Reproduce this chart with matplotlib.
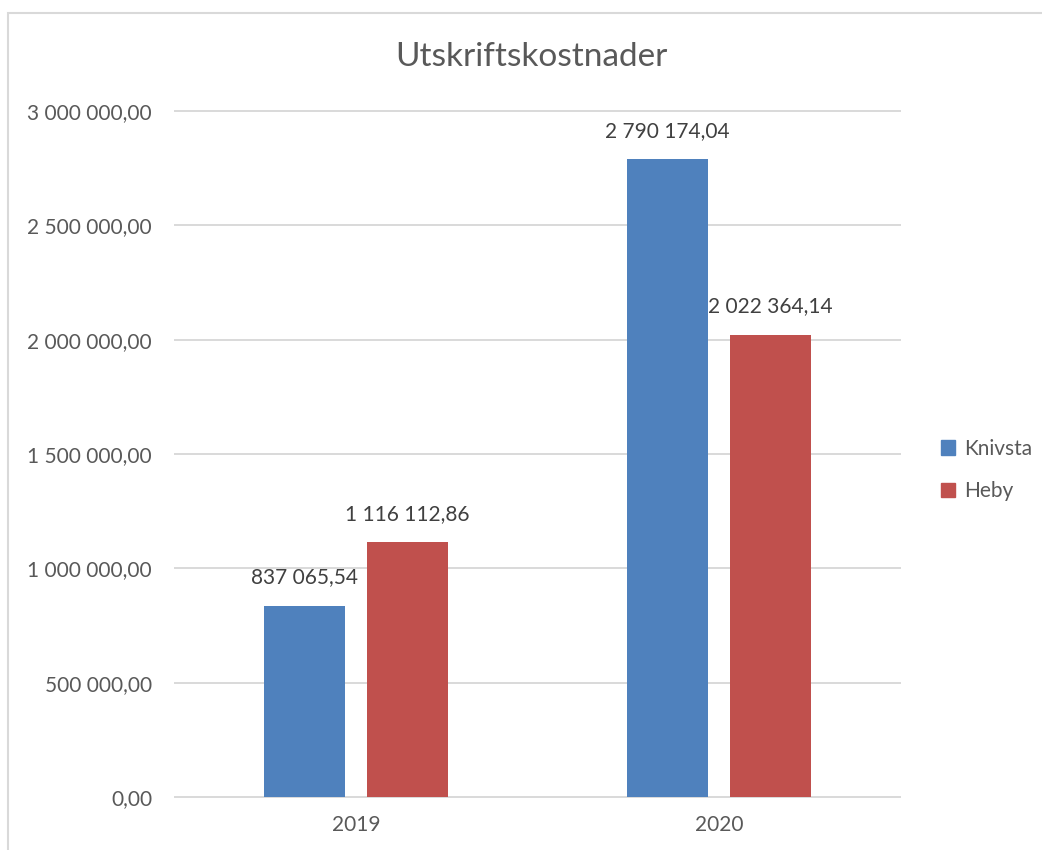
#!/usr/bin/env python3
# Utskriftskostnader per kommun, grupperade staplar per år
import matplotlib
matplotlib.use("Agg")
import matplotlib.pyplot as plt
from matplotlib.patches import Rectangle, Patch

years = ["2019", "2020"]
knivsta = [837065.54, 2790174.04]
heby = [1116112.86, 2022364.14]
yticks = [0, 500000, 1000000, 1500000, 2000000, 2500000, 3000000]

BLUE = "#4F81BD"
RED = "#C0504D"
GRID = "#D9D9D9"
TXT = "#595959"

plt.rcParams['font.family'] = ['Lato', 'DejaVu Sans']


def sv(v):
  # svensk talformat: mellanslag som tusentalsavgränsare, komma som decimal
  return f"{v:,.2f}".replace(",", " ").replace(".", ",")


fig = plt.figure(figsize=(10.42, 8.5), dpi=100)
# ram runt diagramområdet
fig.patches.append(Rectangle((8 / 1042, -0.05), 1.1, 1 - 13 / 850 + 0.05,
                             transform=fig.transFigure, fill=False,
                             edgecolor=GRID, linewidth=1.5))

ax = fig.add_axes([175 / 1042, 1 - 797 / 850, 725 / 1042, 686 / 850])

x = list(range(len(years)))
off = 0.142
w = 0.223
b1 = ax.bar([i - off for i in x], knivsta, w, color=BLUE, label="Knivsta", zorder=3)
b2 = ax.bar([i + off for i in x], heby, w, color=RED, label="Heby", zorder=3)

for bars, vals in ((b1, knivsta), (b2, heby)):
  for r, v in zip(bars, vals):
    ax.annotate(sv(v), (r.get_x() + r.get_width() / 2, v), xytext=(0, 13),
                textcoords="offset points", ha="center", va="bottom",
                fontsize=15, color="#404040")

ax.set_xlim(-0.5, 1.5)
ax.set_ylim(0, 3000000)
ax.set_xticks(x)
ax.set_xticklabels(years)
ax.set_yticks(yticks)
ax.set_yticklabels([sv(v) for v in yticks])
ax.tick_params(axis="both", length=0, labelsize=15, labelcolor=TXT)
ax.tick_params(axis="y", pad=16.5)
ax.tick_params(axis="x", pad=13)
for s in ax.spines.values():
  s.set_visible(False)
ax.grid(axis="y", color=GRID, linewidth=1.4, zorder=0)
for gl in ax.get_ygridlines():
  gl.set_clip_on(False)

fig.text(531 / 1042, 1 - 57 / 850, "Utskriftskostnader", ha="center", va="center",
         fontsize=24, color=TXT)

handles = [Patch(color=BLUE), Patch(color=RED)]
fig.legend(handles, ["Knivsta", "Heby"], loc="center left",
           bbox_to_anchor=(922 / 1042, 1 - 470 / 850), frameon=False,
           fontsize=15, labelcolor=TXT, handlelength=0.7, handleheight=0.7,
           handletextpad=0.4, labelspacing=1.1)

fig.savefig("out.png", dpi=100)
